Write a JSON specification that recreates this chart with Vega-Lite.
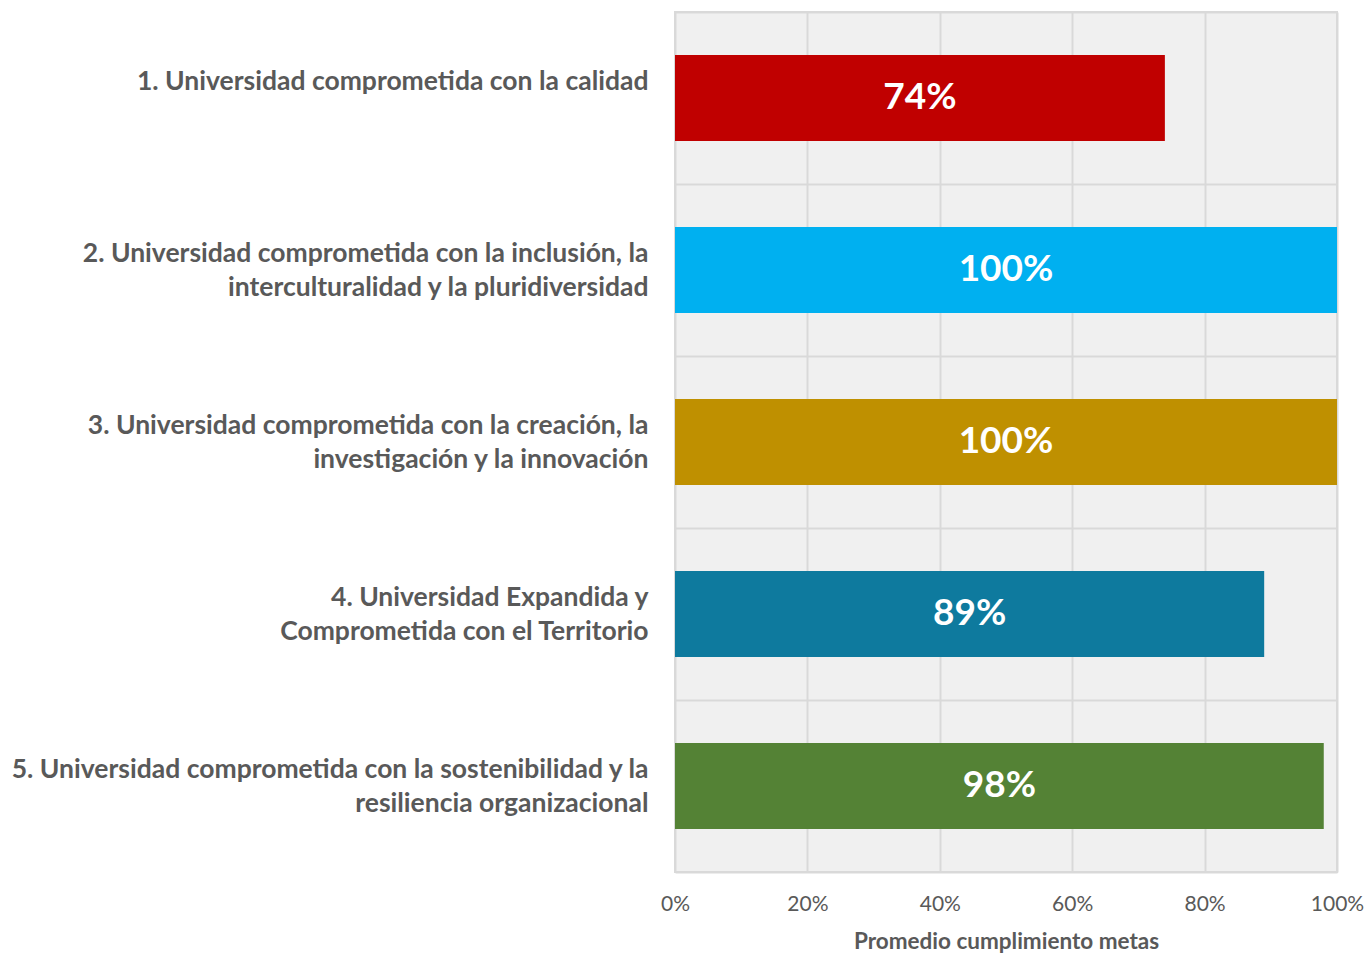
{
  "$schema": "https://vega.github.io/schema/vega-lite/v6.json",
  "autosize": {"type": "none"},
  "padding": {"left": 675, "top": 12, "right": 33, "bottom": 81},
  "width": 662,
  "height": 860,
  "background": "white",
  "config": {
    "font": "Lato",
    "view": {"stroke": "#d9d9d9", "strokeWidth": 2, "fill": "#f0f0f0"}
  },
  "data": {
    "values": [
      {"label": "1. Universidad comprometida con la calidad", "value": 0.74, "color": "#C00000"},
      {"label": "2. Universidad comprometida con la inclusión, la|interculturalidad y la pluridiversidad", "value": 1.0, "color": "#00B0F0"},
      {"label": "3. Universidad comprometida con la creación, la|investigación y la innovación", "value": 1.0, "color": "#BF9000"},
      {"label": "4. Universidad Expandida y|Comprometida con el Territorio", "value": 0.89, "color": "#0E7A9E"},
      {"label": "5. Universidad comprometida con la sostenibilidad y la|resiliencia organizacional", "value": 0.98, "color": "#548235"}
    ]
  },
  "encoding": {
    "y": {
      "field": "label",
      "type": "nominal",
      "sort": null,
      "scale": {"paddingInner": 0, "paddingOuter": 0},
      "axis": {
        "title": null,
        "domain": false,
        "ticks": false,
        "tickBand": "extent",
        "grid": true,
        "gridColor": "#d9d9d9",
        "gridWidth": 2,
        "labelExpr": "split(datum.label, '|')",
        "labelFontSize": 26.5,
        "labelFontWeight": "bold",
        "labelColor": "#595959",
        "labelPadding": 27,
        "labelLimit": 800,
        "labelLineHeight": 34,
        "labelOffset": -17
      }
    }
  },
  "layer": [
    {
      "mark": {"type": "bar", "height": {"band": 0.5}},
      "encoding": {
        "x": {
          "field": "value",
          "type": "quantitative",
          "scale": {"domain": [0, 1]},
          "axis": {
            "title": "Promedio cumplimiento metas",
            "values": [0, 0.2, 0.4, 0.6, 0.8, 1.0],
            "format": ".0%",
            "domain": false,
            "ticks": false,
            "grid": true,
            "gridColor": "#d9d9d9",
            "gridWidth": 2,
            "labelFontSize": 21,
            "labelColor": "#595959",
            "labelPadding": 21,
            "labelFlush": false,
            "titleFontSize": 22.5,
            "titleFontWeight": "bold",
            "titleColor": "#595959",
            "titlePadding": 16
          }
        },
        "color": {"field": "color", "type": "nominal", "scale": null, "legend": null}
      }
    },
    {
      "transform": [{"calculate": "datum.value / 2", "as": "mid"}],
      "mark": {"type": "text", "color": "white", "fontSize": 37, "fontWeight": "bold", "align": "center", "baseline": "middle"},
      "encoding": {
        "x": {"field": "mid", "type": "quantitative"},
        "text": {"field": "value", "type": "quantitative", "format": ".0%"}
      }
    }
  ]
}
